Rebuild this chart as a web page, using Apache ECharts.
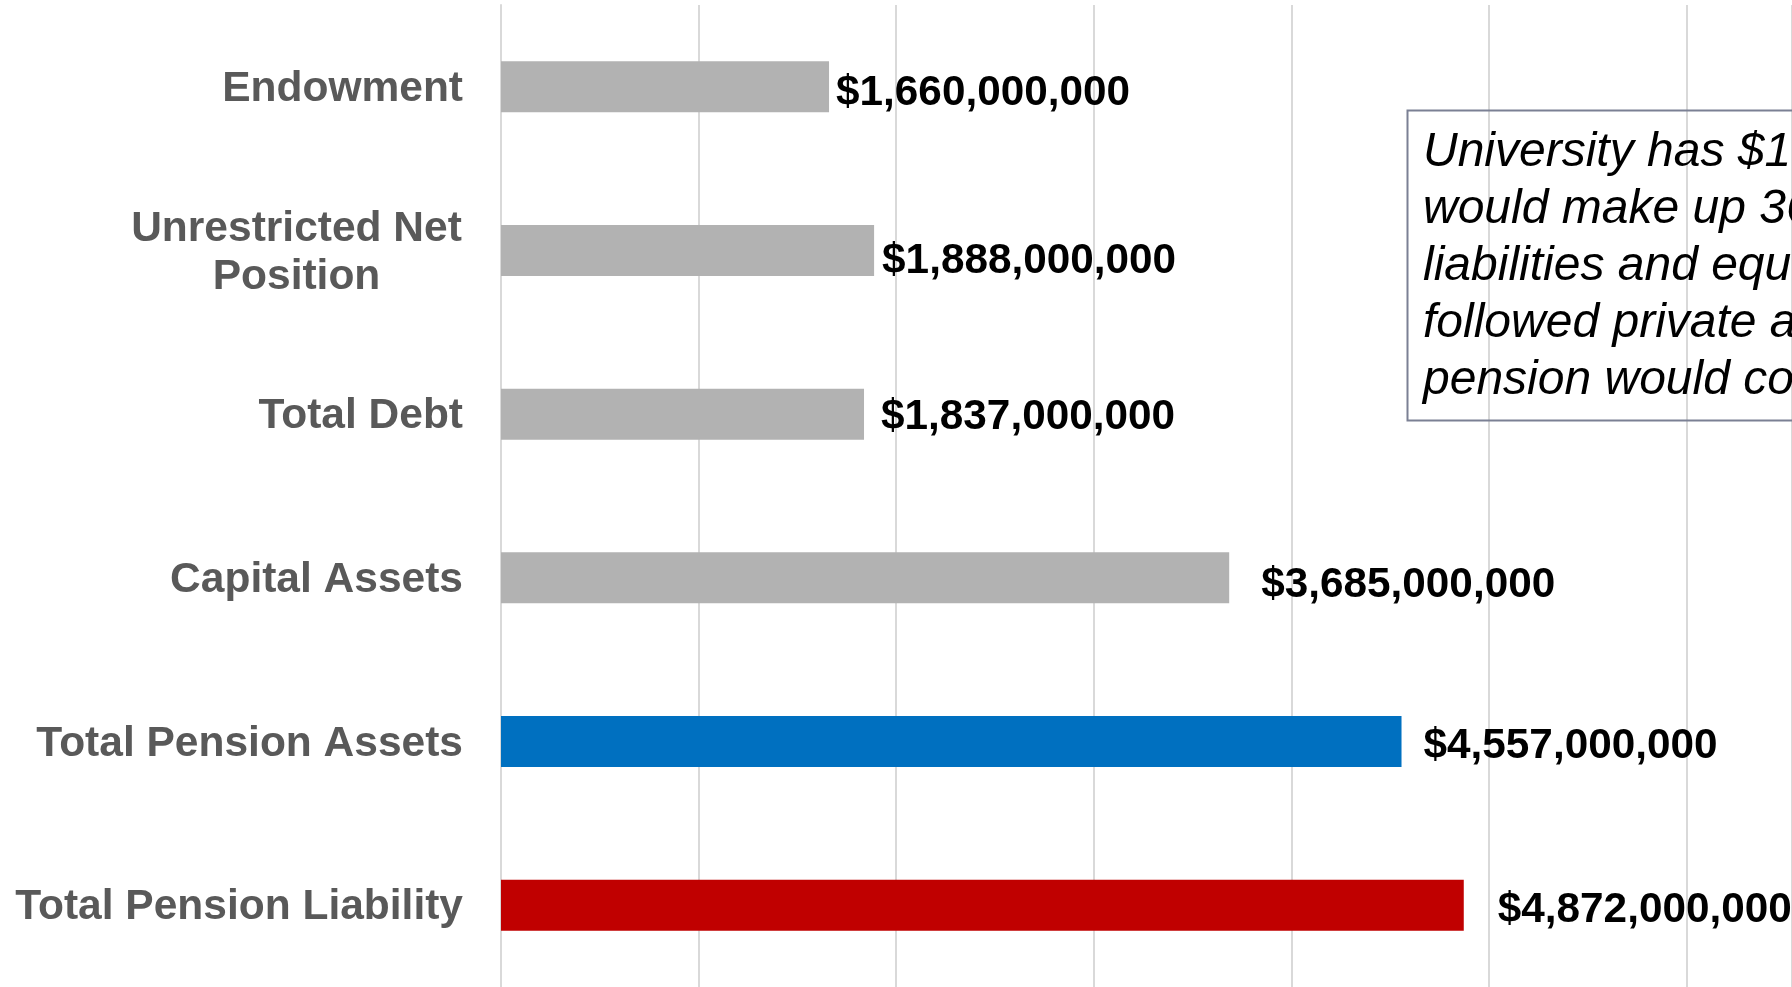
<!DOCTYPE html>
<html>
<head>
<meta charset="utf-8">
<title>University Balance Sheet vs. Pension</title>
<script src="https://cdn.jsdelivr.net/npm/echarts@6/dist/echarts.min.js"></script>
<style>
  html, body { margin: 0; padding: 0; background: #ffffff; }
  #chart { width: 1792px; height: 987px; }
</style>
</head>
<body>
<div id="chart"></div>
<script>
// Categories, top to bottom
const categories = [
  'Endowment',
  'Unrestricted Net\nPosition',
  'Total Debt',
  'Capital Assets',
  'Total Pension Assets',
  'Total Pension Liability'
];

// Dollar amounts for each category
const values = [1660000000, 1888000000, 1837000000, 3685000000, 4557000000, 4872000000];

// Value axis: gridlines every $1 billion; the plot runs off the right edge at about $6.53 billion
const axisMin = 0;
const axisMax = 6533000000;
const axisStep = 1000000000;

// Note text, one entry per line
const noteLines = [
  'University has $1',
  'would make up 36',
  'liabilities and equ',
  'followed private a',
  'pension would co'
];

// Bar colours: gray for balance-sheet items, blue for pension assets, red for liability
const barColors = ['#b2b2b2', '#b2b2b2', '#b2b2b2', '#b2b2b2', '#0070c0', '#c00000'];
// Hand-placed value label nudges [dx, dy]
const labelNudges = [[7, 7], [8, 11], [17, 3], [32, 8], [22, 5], [34, 5]];

const FONT = '"Liberation Sans", Arial, sans-serif';

const chart = echarts.init(document.getElementById('chart'), null, { renderer: 'canvas' });

const fmtMoney = v => '$' + Number(v).toLocaleString('en-US');

chart.setOption({
  animation: false,
  backgroundColor: '#ffffff',
  grid: { left: 501, top: 5, right: 0, height: 984, containLabel: false },
  xAxis: {
    type: 'value',
    min: axisMin,
    max: axisMax,
    interval: axisStep,
    axisLine: { show: false },
    axisTick: { show: false },
    axisLabel: { show: false },
    splitLine: { show: true, lineStyle: { color: '#d9d9d9', width: 2 } }
  },
  yAxis: {
    type: 'category',
    inverse: true,
    data: categories,
    axisLine: { show: true, lineStyle: { color: '#d9d9d9', width: 2 } },
    axisTick: { show: false },
    axisLabel: {
      margin: 38,
      fontSize: 42.5,
      fontWeight: 'bold',
      fontFamily: FONT,
      color: '#595959',
      lineHeight: 48,
      padding: [5, 0, 0, 0],
      formatter: name => name.indexOf('\n') >= 0
        ? name.split('\n').map(s => '{c|' + s + '}').join('\n')
        : name,
      rich: {
        c: {
          width: 333,
          align: 'center',
          fontSize: 42.5,
          fontWeight: 'bold',
          fontFamily: FONT,
          color: '#595959',
          lineHeight: 48
        }
      }
    }
  },
  series: [{
    type: 'bar',
    barWidth: 51,
    data: values.map((v, i) => ({
      value: v,
      itemStyle: { color: barColors[i] },
      label: { offset: labelNudges[i] }
    })),
    label: {
      show: true,
      position: 'right',
      distance: 0,
      fontSize: 42.3,
      fontWeight: 'bold',
      fontFamily: FONT,
      color: '#000000',
      formatter: p => fmtMoney(p.value)
    }
  }],
  graphic: [
    {
      type: 'rect',
      left: 1405,
      top: 108,
      shape: { width: 520, height: 310 },
      style: { fill: 'none', stroke: '#7b8094', lineWidth: 2 },
      z: 10
    },
    {
      type: 'text',
      left: 1423,
      top: 124,
      style: {
        text: noteLines.join('\n'),
        fontSize: 48,
        fontStyle: 'italic',
        fontFamily: FONT,
        fill: '#000000',
        lineHeight: 57
      },
      z: 11
    }
  ]
});
</script>
</body>
</html>
